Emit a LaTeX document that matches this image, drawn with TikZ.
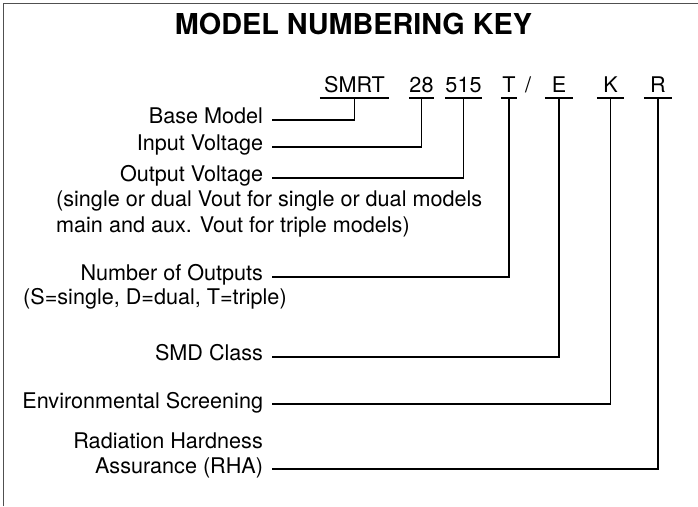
\documentclass[tikz,border=0pt]{standalone}
\usepackage{fontspec}
\setmainfont{TeX Gyre Heros}
\newcommand{\keyfont}{\fontsize{21.6}{26}\selectfont}
\begin{document}
\begin{tikzpicture}[x=1pt,y=1pt,
  lbl/.style={anchor=east,inner sep=0pt,outer xsep=9pt,text height=8pt,text depth=0pt,font=\keyfont},
  note/.style={anchor=base west,inner sep=0pt,font=\keyfont},
  code/.style={anchor=base,inner xsep=0pt,inner ysep=5pt,text depth=0pt,minimum width=#1,font=\keyfont},
  lead/.style={draw=drawColor,line width=1.6pt,line join=miter}]
\definecolor{drawColor}{RGB}{0,0,0}
\definecolor{frameColor}{RGB}{80,80,80}
\path[use as bounding box] (0,0) rectangle (698,506);

% frame
\path[draw=frameColor,line width=1pt] (3.5,0) -- (3.5,502.5) -- (698,502.5);

\node[anchor=base,inner sep=0pt,font=\bfseries\fontsize{28.8}{34}\selectfont] (title) at (353.5,471) {MODEL NUMBERING KEY};

% model number
\node[code=69pt] (smrt) at (354.5,413) {SMRT};
\node[code=25pt] (n28)  at (421.5,413) {28};
\node[code=27pt] (n515) at (463.5,413) {515};
\node[code=16pt] (nT)   at (509.0,413) {T};
\node[anchor=base,inner sep=0pt,font=\keyfont] (slash) at (528.0,413) {/};
\node[code=28pt] (nE)   at (559.0,413) {E};
\node[code=27pt] (nK)   at (610.5,413) {K};
\node[code=28pt] (nR)   at (658.0,413) {R};
\foreach \n in {smrt,n28,n515,nT,nE,nK,nR}
  \path[lead] (\n.south west) -- (\n.south east);

% labels
\node[lbl] (base) at (272,386) {Base Model};
\node[lbl] (inV)  at (272,359) {Input Voltage};
\node[lbl] (outV) at (272,328) {Output Voltage};
\node[note] (outA) at (56,299) {(single or dual Vout for single or dual models};
\node[note] (outB) at (56,273) {main and aux. Vout for triple models)};
\node[lbl] (numO) at (272,229) {Number of Outputs};
\node[note] (numN) at (23,201) {(S=single, D=dual, T=triple)};
\node[lbl] (smd)  at (272,149) {SMD Class};
\node[lbl] (env)  at (272,102) {Environmental Screening};
\node[anchor=base east,inner sep=0pt,font=\keyfont] (rhaA) at (263,58) {Radiation Hardness};
\node[lbl] (rhaB) at (272,37) {Assurance (RHA)};

% leaders
\path[lead] (base.east) -| (smrt.south);
\path[lead] (inV.east)  -| (n28.south);
\path[lead] (outV.east) -| (n515.south);
\path[lead] (numO.east) -| (nT.south);
\path[lead] (smd.east)  -| (nE.south);
\path[lead] (env.east)  -| (nK.south);
\path[lead] (rhaB.east) -| (nR.south);
\end{tikzpicture}
\end{document}
